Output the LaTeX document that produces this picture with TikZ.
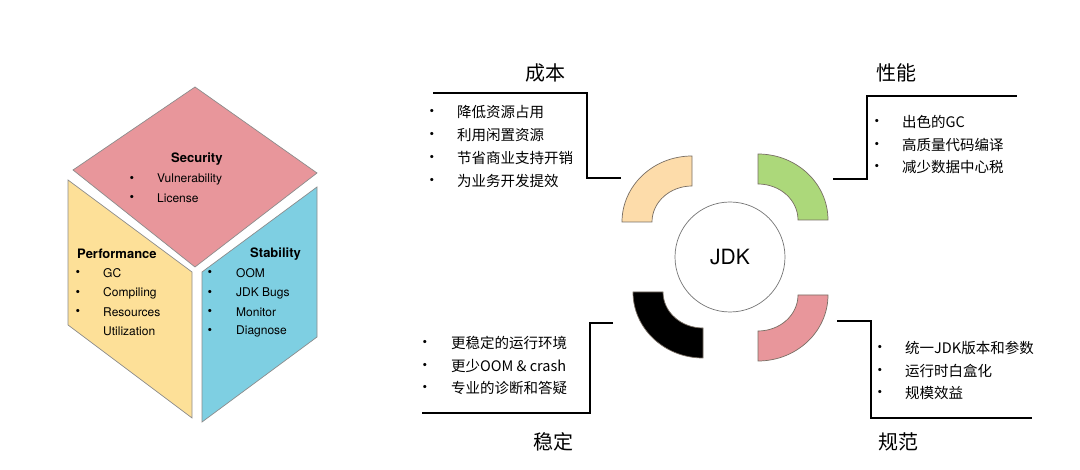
\documentclass[tikz,border=0pt]{standalone}
\usepackage{fontspec}
\setmainfont{TeX Gyre Heros}
\newfontfamily\cjk{Noto Sans CJK SC}

\definecolor{secpink}{RGB}{232,150,155}
\definecolor{perfyellow}{RGB}{253,224,152}
\definecolor{stabblue}{RGB}{126,207,226}
\definecolor{costpeach}{RGB}{253,220,170}
\definecolor{perfgreen}{RGB}{172,216,122}
\definecolor{normpink}{RGB}{232,150,155}
\definecolor{ringedge}{RGB}{120,110,100}

\begin{document}
\begin{tikzpicture}[
  x=1pt, y=-1pt,
  every node/.style={inner sep=1pt},
  face/.style={draw=black!45, line width=0.7pt},
  ring/.style={draw=ringedge, line width=0.7pt},
  bracketline/.style={draw, line width=2pt},
  head/.style={font=\bfseries\fontsize{13}{15}\selectfont, anchor=west},
  item/.style={font=\fontsize{12}{14}\selectfont, anchor=west},
  dot/.style={font=\fontsize{13}{14}\selectfont},
  title/.style={font=\cjk\fontsize{20}{24}\selectfont},
  citem/.style={font=\cjk\fontsize{14.5}{17}\selectfont, anchor=west},
  core/.style={circle, draw=black!55, line width=0.7pt, minimum size=110pt,
    font=\fontsize{21}{24}\selectfont}]

  \useasboundingbox (0,0) rectangle (1080,470);

  % ---- the cube: three faces ----------------------------------------------
  \coordinate (secL) at (73,170);   \coordinate (secT) at (195,87);
  \coordinate (secR) at (317,173);  \coordinate (secB) at (195,267);
  \coordinate (perfTL) at (68,180); \coordinate (perfTR) at (192,272);
  \coordinate (perfBR) at (192,418);\coordinate (perfBL) at (68,325);
  \coordinate (stabTL) at (202,272);\coordinate (stabTR) at (317,187);
  \coordinate (stabBR) at (317,337);\coordinate (stabBL) at (202,422);
  \draw[face, fill=secpink] (secL) -- (secT) -- (secR) -- (secB) -- cycle;
  \draw[face, fill=perfyellow] (perfTL) -- (perfTR) -- (perfBR) -- (perfBL) -- cycle;
  \draw[face, fill=stabblue] (stabTL) -- (stabTR) -- (stabBR) -- (stabBL) -- cycle;

  % ---- Security ------------------------------------------------------------
  \node[head] (sechead) at (170,159) {Security};
  \node[dot] (secd1) at (132,179) {\textbullet};
  \node[item] (seci1) at (156,179) {Vulnerability};
  \node[dot] (secd2) at (132,198) {\textbullet};
  \node[item] (seci2) at (156,198) {License};

  % ---- Performance ---------------------------------------------------------
  \node[head] (perfhead) at (76,254) {Performance};
  \node[dot] (perfd1) at (78,273) {\textbullet};
  \node[item] (perfi1) at (102,273) {GC};
  \node[dot] (perfd2) at (78,293) {\textbullet};
  \node[item] (perfi2) at (102,293) {Compiling};
  \node[dot] (perfd3) at (78,312) {\textbullet};
  \node[item] (perfi3) at (102,312) {Resources};
  \node[item] (perfi4) at (102,331) {Utilization};

  % ---- Stability -----------------------------------------------------------
  \node[head] (stabhead) at (249,254) {Stability};
  \node[dot] (stabd1) at (210,273) {\textbullet};
  \node[item] (stabi1) at (235,273) {OOM};
  \node[dot] (stabd2) at (210,293) {\textbullet};
  \node[item] (stabi2) at (235,293) {JDK Bugs};
  \node[dot] (stabd3) at (210,312) {\textbullet};
  \node[item] (stabi3) at (235,312) {Monitor};
  \node[dot] (stabd4) at (210,331) {\textbullet};
  \node[item] (stabi4) at (235,331) {Diagnose};

  % ---- the JDK core and its four quarter rings -----------------------------
  \node[core] (jdk) at (730,257) {JDK};
  \coordinate (costc) at (692,222);
  \coordinate (perfc) at (758,220);
  \coordinate (stablec) at (703,292);
  \coordinate (normc) at (758,295);
  \draw[ring, fill=costpeach] ([xshift=-70pt]costc)
    arc[start angle=180, end angle=90, x radius=70pt, y radius=66pt]
    -- ([yshift=36pt]costc)
    arc[start angle=90, end angle=180, x radius=40pt, y radius=36pt] -- cycle;
  \draw[ring, fill=perfgreen] ([yshift=66pt]perfc)
    arc[start angle=90, end angle=0, x radius=70pt, y radius=66pt]
    -- ([xshift=40pt]perfc)
    arc[start angle=0, end angle=90, x radius=40pt, y radius=36pt] -- cycle;
  \draw[ring, fill=black] ([xshift=-70pt]stablec)
    arc[start angle=180, end angle=270, x radius=70pt, y radius=66pt]
    -- ([yshift=-36pt]stablec)
    arc[start angle=270, end angle=180, x radius=40pt, y radius=36pt] -- cycle;
  \draw[ring, fill=normpink] ([xshift=70pt]normc)
    arc[start angle=0, end angle=-90, x radius=70pt, y radius=66pt]
    -- ([yshift=-36pt]normc)
    arc[start angle=-90, end angle=0, x radius=40pt, y radius=36pt] -- cycle;

  % ---- 成本 ----------------------------------------------------------------
  \node[title] (costtitle) at (545,73) {成本};
  \coordinate (costa) at (433,93);  \coordinate (costb) at (587,93);
  \coordinate (costcc) at (587,178); \coordinate (costd) at (621,178);
  \draw[bracketline] (costa) -- (costb) -- (costcc) -- (costd);
  \node[dot] (costd1) at (432,112) {\textbullet};
  \node[citem] (costi1) at (456,112) {降低资源占用};
  \node[dot] (costd2) at (432,135) {\textbullet};
  \node[citem] (costi2) at (456,135) {利用闲置资源};
  \node[dot] (costd3) at (432,158) {\textbullet};
  \node[citem] (costi3) at (456,158) {节省商业支持开销};
  \node[dot] (costd4) at (432,181) {\textbullet};
  \node[citem] (costi4) at (456,181) {为业务开发提效};

  % ---- 性能 ----------------------------------------------------------------
  \node[title] (perftitle) at (896,73) {性能};
  \coordinate (perfa) at (833,179); \coordinate (perfb) at (867,179);
  \coordinate (perfcc) at (867,96); \coordinate (perfd) at (1017,96);
  \draw[bracketline] (perfa) -- (perfb) -- (perfcc) -- (perfd);
  \node[dot] (perfd1c) at (877,122) {\textbullet};
  \node[citem] (perfi1c) at (901,122) {出色的GC};
  \node[dot] (perfd2c) at (877,145) {\textbullet};
  \node[citem] (perfi2c) at (901,145) {高质量代码编译};
  \node[dot] (perfd3c) at (877,167) {\textbullet};
  \node[citem] (perfi3c) at (901,167) {减少数据中心税};

  % ---- 稳定 ----------------------------------------------------------------
  \node[title] (stabletitle) at (553,442) {稳定};
  \coordinate (stablea) at (613,323); \coordinate (stableb) at (590,323);
  \coordinate (stablecc) at (590,413); \coordinate (stabled) at (422,413);
  \draw[bracketline] (stablea) -- (stableb) -- (stablecc) -- (stabled);
  \node[dot] (stabled1) at (425,343) {\textbullet};
  \node[citem] (stablei1) at (450,343) {更稳定的运行环境};
  \node[dot] (stabled2) at (425,366) {\textbullet};
  \node[citem] (stablei2) at (450,366) {更少OOM \& crash};
  \node[dot] (stabled3) at (425,388) {\textbullet};
  \node[citem] (stablei3) at (450,388) {专业的诊断和答疑};

  % ---- 规范 ----------------------------------------------------------------
  \node[title] (normtitle) at (898,442) {规范};
  \coordinate (norma) at (837,321); \coordinate (normb) at (871,321);
  \coordinate (normcc) at (871,418); \coordinate (normd) at (1032,418);
  \draw[bracketline] (norma) -- (normb) -- (normcc) -- (normd);
  \node[dot] (normd1) at (880,348) {\textbullet};
  \node[citem] (normi1) at (904,348) {统一JDK版本和参数};
  \node[dot] (normd2) at (880,371) {\textbullet};
  \node[citem] (normi2) at (904,371) {运行时白盒化};
  \node[dot] (normd3) at (880,393) {\textbullet};
  \node[citem] (normi3) at (904,393) {规模效益};
\end{tikzpicture}
\end{document}
